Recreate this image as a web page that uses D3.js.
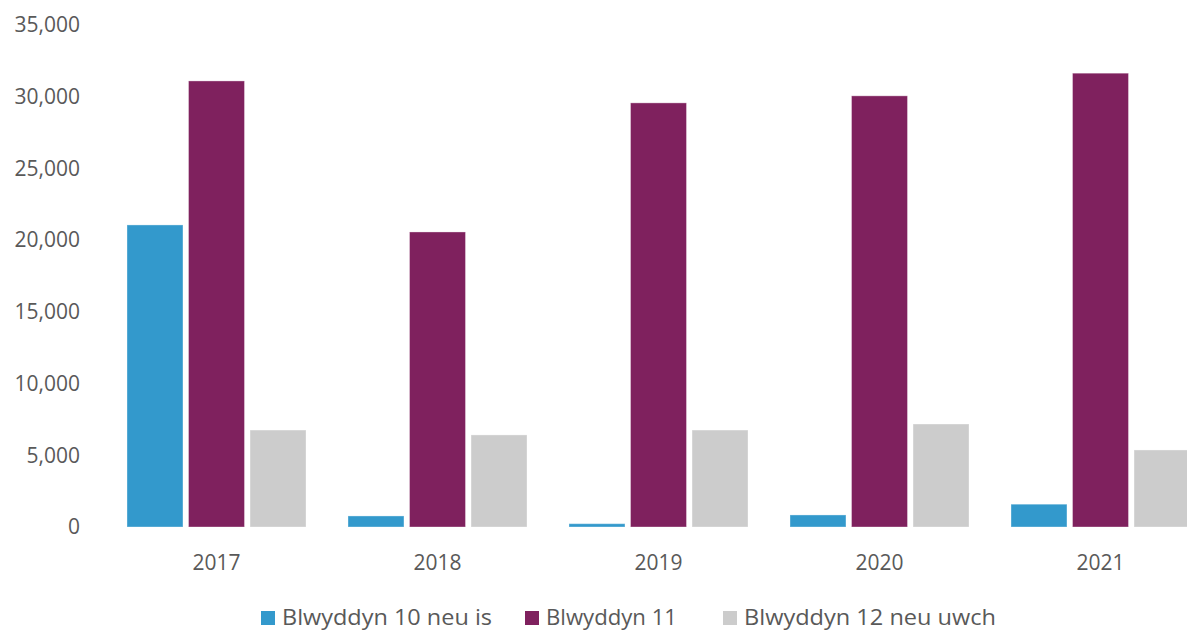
<!DOCTYPE html>
<html><head><meta charset="utf-8">
<script src="https://cdn.jsdelivr.net/npm/d3@7"></script>
<style>body{margin:0;background:#fff}svg{display:block}text{font-family:"Open Sans",sans-serif;fill:#595959}</style>
</head><body><svg id="c" width="1187" height="631"></svg>
<script>
const years = ["2017","2018","2019","2020","2021"];
const seriesNames = ["Blwyddyn 10 neu is","Blwyddyn 11","Blwyddyn 12 neu uwch"];
const seriesColors = ["#3399CC","#7F215E","#CCCCCC"];
const year10 = [21060, 770, 230, 840, 1590];
const year11 = [31100, 20570, 29570, 30060, 31640];
const year12 = [6760, 6420, 6760, 7180, 5370];
const yTicks = [0,5000,10000,15000,20000,25000,30000,35000];
const values = [year10, year11, year12];

const svg = d3.select("#c");
const y = d3.scaleLinear().domain([0,35000]).range([527,25]);
const x0 = d3.scaleBand().domain(years).range([106,1211]).paddingInner(0.19).paddingOuter(0.095);
const x1 = d3.scaleBand().domain(seriesNames).range([0,x0.bandwidth()]).paddingInner(0.09);

const yAxis = d3.axisLeft(y).tickValues(yTicks).tickFormat(d3.format(",")).tickSize(0).tickPadding(0);
const ya = svg.append("g").attr("transform","translate(80,0)").call(yAxis);
ya.select(".domain").remove();
ya.selectAll("text").style("font-size","21px").attr("fill","#595959");

const g = svg.append("g");
years.forEach((yr,i)=>{
  seriesNames.forEach((s,j)=>{
    const v = values[j][i];
    g.append("rect")
      .attr("x", x0(yr)+x1(s))
      .attr("y", y(v))
      .attr("width", x1.bandwidth())
      .attr("height", y(0)-y(v))
      .attr("fill", seriesColors[j])
      .attr("stroke","#fff").attr("stroke-opacity",0.35).attr("stroke-width",1);
  });
});

const xAxis = d3.axisBottom(x0).tickSize(0).tickPadding(0);
const xa = svg.append("g").attr("transform","translate(0,555)").call(xAxis);
xa.select(".domain").remove();
xa.selectAll("text").style("font-size","21px").attr("fill","#595959").attr("dy","0.71em");

const legX = [261, 525, 723];
const legW = [210, 131, 252];
const lg = svg.append("g");
seriesNames.forEach((s,j)=>{
  lg.append("rect").attr("x",legX[j]).attr("y",611).attr("width",14).attr("height",14).attr("fill",seriesColors[j]);
  lg.append("text").attr("x",legX[j]+21).attr("y",625)
    .attr("textLength",legW[j]).attr("lengthAdjust","spacingAndGlyphs")
    .style("font-size","21.5px").text(s);
});
</script></body></html>
